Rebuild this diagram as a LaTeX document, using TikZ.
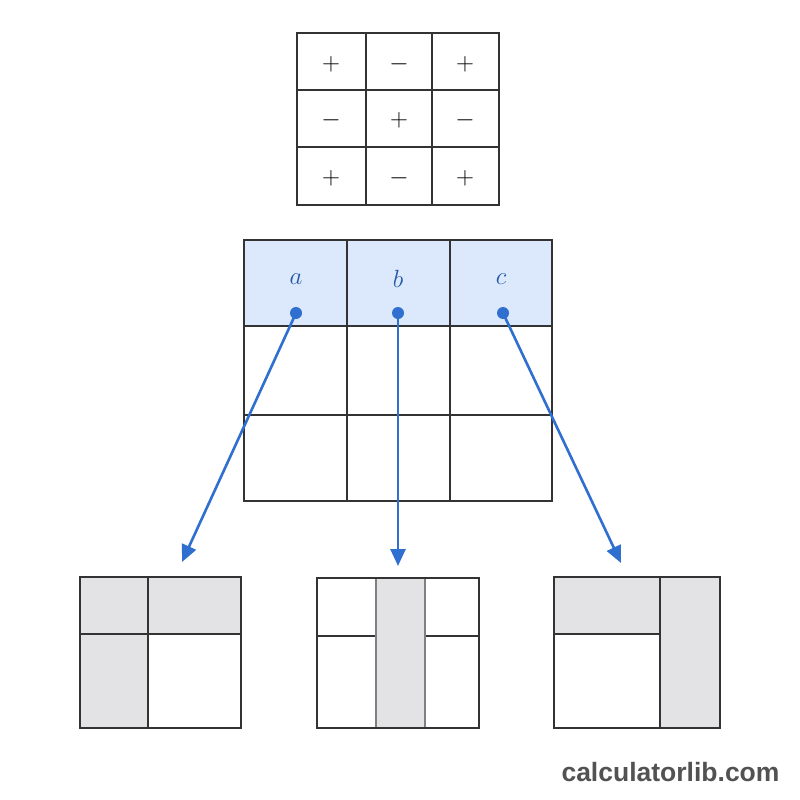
\documentclass[tikz,border=0pt]{standalone}
\usepackage{fontspec}
\newfontfamily\wm{Liberation Sans}
\usetikzlibrary{arrows.meta}
\definecolor{cblue}{HTML}{2F6FD0}
\definecolor{lblue}{HTML}{DCE8FB}
\definecolor{lgray}{HTML}{E3E3E5}
\definecolor{gline}{HTML}{333333}
\tikzset{
  grid/.style={draw=gline,line width=2pt},
  sign/.style={font=\fontsize{26}{30}\selectfont},
  lbl/.style={font=\fontsize{32}{36}\selectfont,text=cblue!80!black},
  dot/.style={circle,fill=cblue,inner sep=0pt,minimum size=12pt},
  arr/.style={draw=cblue,line width=2.6pt,-{Triangle[length=17pt,width=15pt]}},
}
\begin{document}
\begin{tikzpicture}[x=1pt,y=-1pt]
\useasboundingbox (0,0) rectangle (800,800);
\fill[white] (0,0) rectangle (800,800);
% sign grid
\draw[draw=gline,line width=1.2pt] (297,33) rectangle (499,205);
\foreach \x in {366,432} \draw[draw=gline,line width=1.2pt] (\x,33)--(\x,205);
\foreach \y in {90,147} \draw[draw=gline,line width=1.2pt] (297,\y)--(499,\y);
\node[sign] (s11) at (331,64) {$+$};
\node[sign] (s12) at (399,64) {$-$};
\node[sign] (s13) at (465,64) {$+$};
\node[sign] (s21) at (331,120) {$-$};
\node[sign] (s22) at (399,120) {$+$};
\node[sign] (s23) at (465,120) {$-$};
\node[sign] (s31) at (331,178) {$+$};
\node[sign] (s32) at (399,178) {$-$};
\node[sign] (s33) at (465,178) {$+$};
% main grid
\fill[lblue] (244,240) rectangle (552,326);
\draw[grid] (244,240) rectangle (552,501);
\foreach \x in {347,450} \draw[grid] (\x,240)--(\x,501);
\foreach \y in {326,415} \draw[grid] (244,\y)--(552,\y);
\node[lbl] (la) at (296,279) {$a$};
\node[lbl] (lb) at (398,279) {$b$};
\node[lbl] (lc) at (501,279) {$c$};
\node[dot] (da) at (296,313) {};
\node[dot] (db) at (398,313) {};
\node[dot] (dc) at (503,313) {};
\coordinate (ta) at (182,562);
\coordinate (tb) at (398,566);
\coordinate (tc) at (621,563);
\draw[arr] (da.center)--(ta);
\draw[arr] (db.center)--(tb);
\draw[arr] (dc.center)--(tc);
% left minor
\fill[lgray] (80,577) rectangle (241,634);
\fill[lgray] (80,634) rectangle (148,728);
\draw[grid] (80,577) rectangle (241,728);
\draw[grid] (148,577)--(148,728);
\draw[grid] (80,634)--(241,634);
% middle minor
\fill[lgray] (376,578) rectangle (425,728);
\draw[grid] (317,636)--(376,636);
\draw[grid] (425,636)--(479,636);
\draw[draw=gray,line width=1.5pt] (376,578)--(376,728) (425,578)--(425,728);
\draw[grid] (317,578) rectangle (479,728);
% right minor
\fill[lgray] (554,577) rectangle (720,634);
\fill[lgray] (660,634) rectangle (720,728);
\draw[grid] (554,577) rectangle (720,728);
\draw[grid] (660,577)--(660,728);
\draw[grid] (554,634)--(660,634);
% watermark
\node[font=\wm\bfseries\fontsize{26.5}{30}\selectfont,text=gline!85!white,anchor=east] (wm) at (783,772) {calculatorlib.com};
\end{tikzpicture}
\end{document}
